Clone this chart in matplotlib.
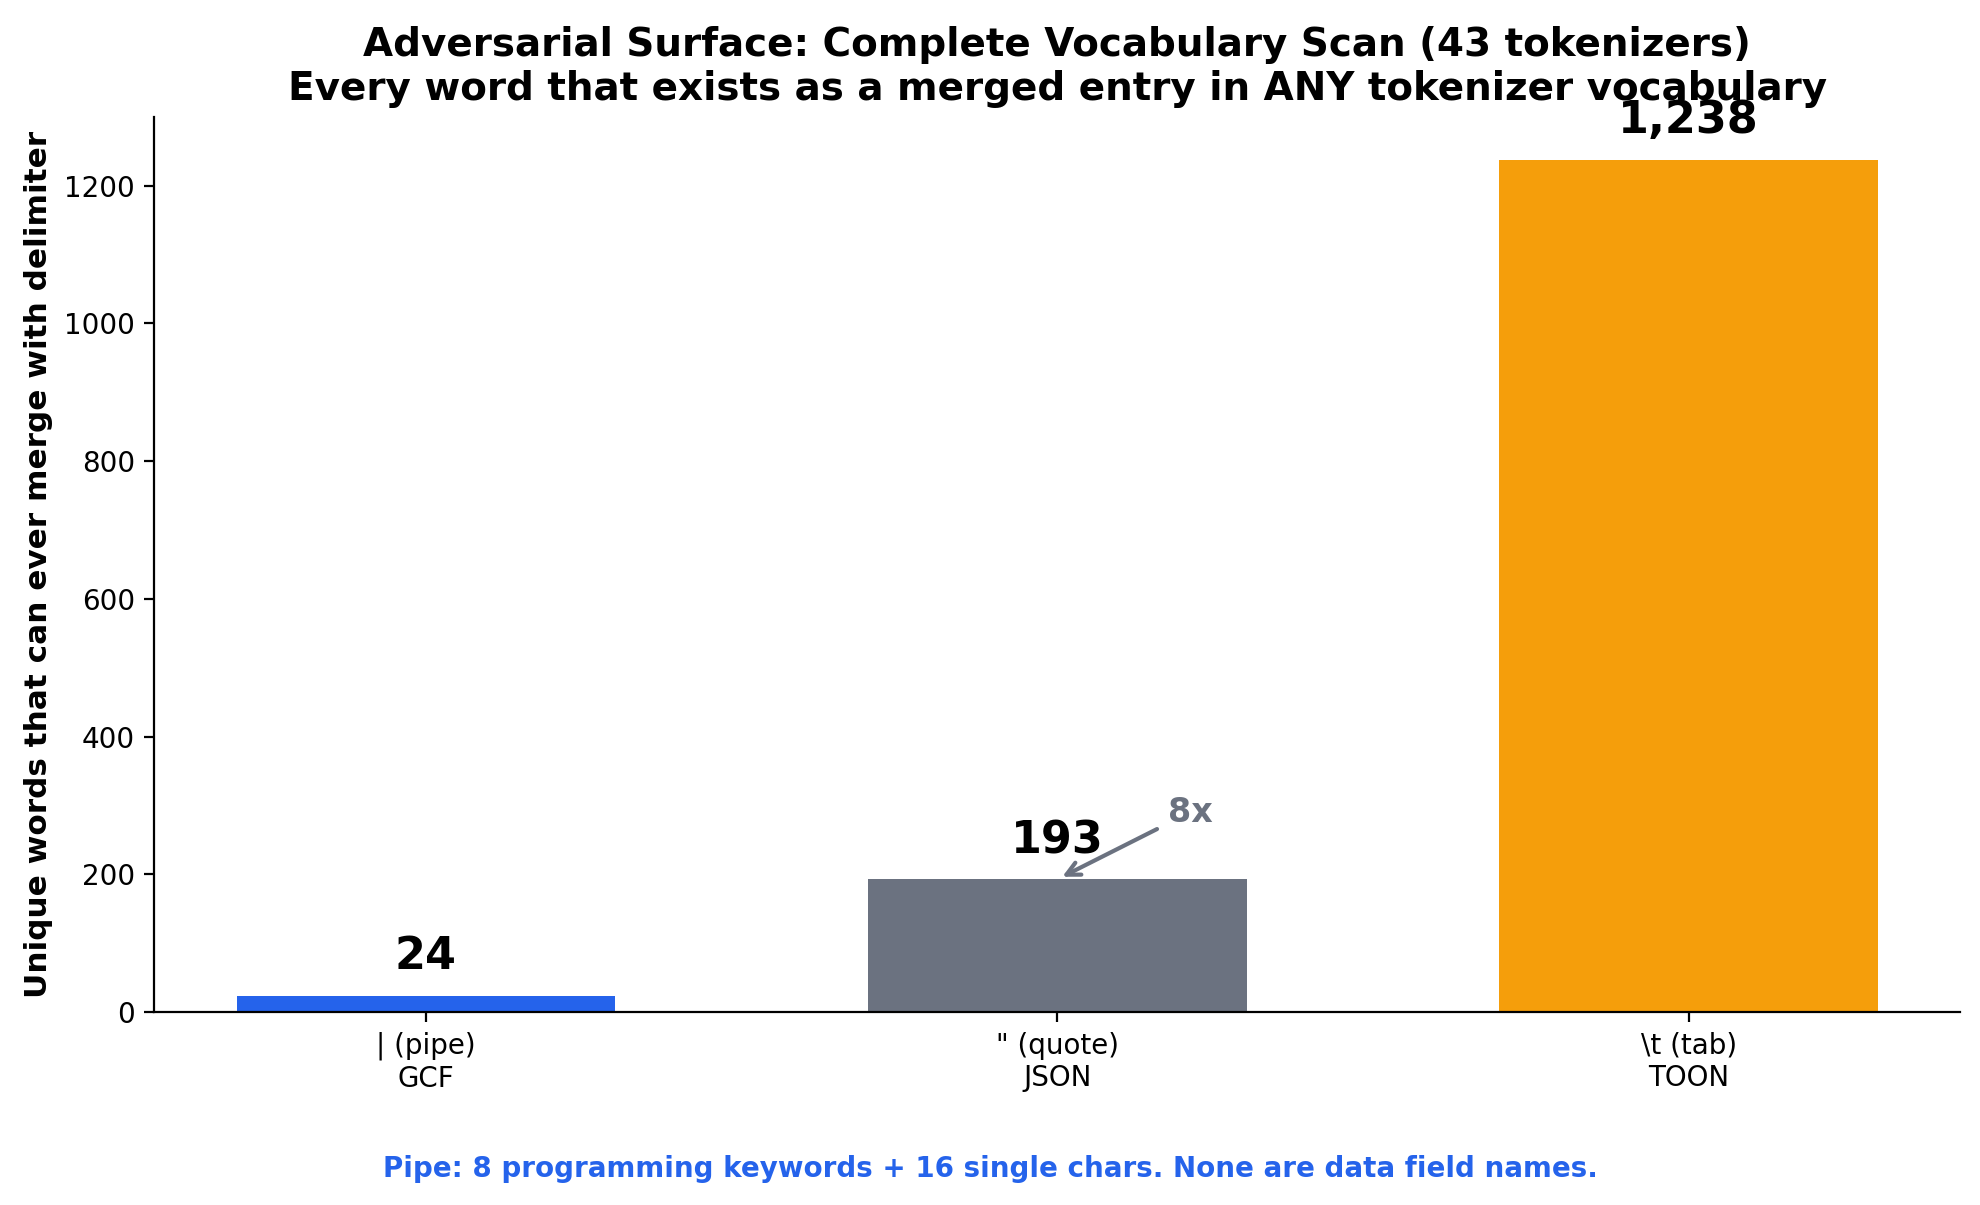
import matplotlib.pyplot as plt
import numpy as np

# Data
delimiters = ['| (pipe)\nGCF', '" (quote)\nJSON', '\\t (tab)\nTOON']
word_counts = [24, 193, 1238]
colors = ['#2563eb', '#6b7280', '#f59e0b']

x = np.arange(len(delimiters))

fig, ax = plt.subplots(figsize=(9.9, 6.025))

bars = ax.bar(x, word_counts, 0.6, color=colors)

# Value labels on top of bars
for xi, v in zip(x, word_counts):
    ax.text(xi, v + 25, f'{v:,}', ha='center', va='bottom',
            fontsize=16, fontweight='bold')

# Ratio annotation
ax.annotate('8x', xy=(1, word_counts[1]), xytext=(1.21, 290),
            ha='center', va='center', fontsize=12, fontweight='bold',
            color='#6b7280',
            arrowprops=dict(arrowstyle='->', color='#6b7280', lw=1.5))

ax.set_xticks(x)
ax.set_xticklabels(delimiters)
ax.set_ylim(0, 1300)
ax.set_ylabel('Unique words that can ever merge with delimiter',
              fontsize=11.2, fontweight='bold')
ax.set_title('Adversarial Surface: Complete Vocabulary Scan (43 tokenizers)\n'
             'Every word that exists as a merged entry in ANY tokenizer vocabulary',
             fontsize=14, fontweight='bold')
ax.spines['top'].set_visible(False)
ax.spines['right'].set_visible(False)

fig.text(0.5, 0.03, 'Pipe: 8 programming keywords + 16 single chars. None are data field names.',
         ha='center', va='center', fontsize=10, fontweight='bold', color='#2563eb')

plt.subplots_adjust(left=0.078, right=0.99, top=0.903, bottom=0.16)

fig.savefig('out.png', dpi=200)
